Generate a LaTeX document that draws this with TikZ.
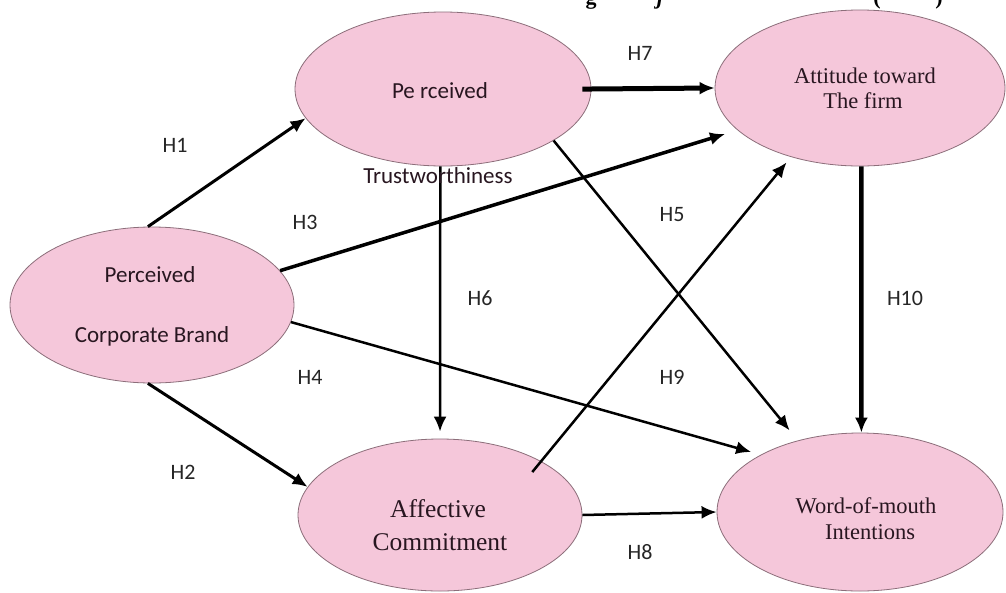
\documentclass[tikz,border=0pt]{standalone}
\usepackage{fontspec}
\setmainfont{Liberation Serif}
\newfontfamily\carl{Carlito}
\usetikzlibrary{shapes.geometric,arrows.meta}
\definecolor{pinkc}{RGB}{245,199,218}
\definecolor{edgec}{RGB}{140,110,122}
\definecolor{txtc}{RGB}{40,22,32}
\begin{document}
\begin{tikzpicture}[x=1pt,y=-1pt,
  ell/.style={ellipse, draw=edgec, fill=pinkc, line width=0.8pt, inner sep=0pt},
  sl/.style={font=\carl\fontsize{23}{27}\selectfont, text=txtc, anchor=base, inner sep=0pt},
  rl/.style={font=\fontsize{22.5}{26}\selectfont, text=txtc, anchor=base, inner sep=0pt},
  al/.style={font=\fontsize{25.5}{30}\selectfont, text=txtc, anchor=base, inner sep=0pt},
  hl/.style={font=\carl\fontsize{22}{26}\selectfont, text=black!85, inner sep=0pt},
  frag/.style={font=\bfseries\fontsize{22}{26}\selectfont, anchor=base, inner sep=0pt},
  arr/.style={draw=black, line width=#1, -{Latex[length=15pt,width=13pt]}},
  arr/.default=2.5pt]
\useasboundingbox[fill=white] (0,0) rectangle (1006,592);

% cut-off caption fragments at the top edge
\node[frag] (f1) at (591,4) {g};
\node[frag] (f2) at (660,4) {\textit{j}};
\node[frag] (f3) at (877,4) {(};
\node[frag] (f4) at (939,4) {)};

% ellipses
\node[ell, minimum width=296pt, minimum height=154pt] (pt)  at (443,89)  {};
\node[ell, minimum width=290pt, minimum height=156pt] (at)  at (860,88)  {};
\node[ell, minimum width=284pt, minimum height=156pt] (pcb) at (152,305) {};
\node[ell, minimum width=284pt, minimum height=152pt] (ac)  at (440,515) {};
\node[ell, minimum width=286pt, minimum height=158pt] (wom) at (860,512) {};

% connectors
\draw[arr=3pt] (pcb.93) -- (pt.192);
\draw[arr=3pt] (pcb.-93) -- (ac.168.6);
\draw[arr=3.5pt, shorten >=13pt] (pcb.15.6) -- (at.199.6);
\draw[arr=2.5pt, shorten >=10pt] (pcb.-7.9) -- (wom.150.1);
\draw[arr=2.5pt, shorten >=13pt] (pt.-25.9) -- (wom.131.2);
\draw[arr=2.5pt, shorten >=7pt] (pt.-92) -- (ac.90);
\draw[arr=5pt, shorten <=-9pt] (pt.0) -- (at.180);
\draw[arr=2.5pt] (ac.0) -- (wom.180);
\draw[arr=2.5pt, shorten <=-14pt, shorten >=7pt] (ac.28.3) -- (at.225.4);
\draw[arr=4.5pt] (at.-89) -- (wom.89);

% texts
\node[sl] (ptA) at (440,98) {Pe rceived};
\node[sl] (ptB) at (438,183) {Trustworthiness};
\node[sl] (pcbA) at (150,282) {Perceived};
\node[sl] (pcbB) at (152,342) {Corporate Brand};
\node[rl] (atA) at (865,83) {Attitude toward};
\node[rl] (atB) at (863,108) {The firm};
\node[al] (acA) at (438,517) {Affective};
\node[al] (acB) at (440,550) {Commitment};
\node[rl] (womA) at (866,513) {Word-of-mouth};
\node[rl] (womB) at (870,539) {Intentions};

% hypothesis labels
\node[hl] (h1) at (175,145) {H1};
\node[hl] (h2) at (183,472) {H2};
\node[hl] (h3) at (305,222) {H3};
\node[hl] (h4) at (310,377) {H4};
\node[hl] (h5) at (672,215) {H5};
\node[hl] (h6) at (480,298) {H6};
\node[hl] (h7) at (640,53) {H7};
\node[hl] (h8) at (640,552) {H8};
\node[hl] (h9) at (672,377) {H9};
\node[hl] (h10) at (905,298) {H10};
\end{tikzpicture}
\end{document}
